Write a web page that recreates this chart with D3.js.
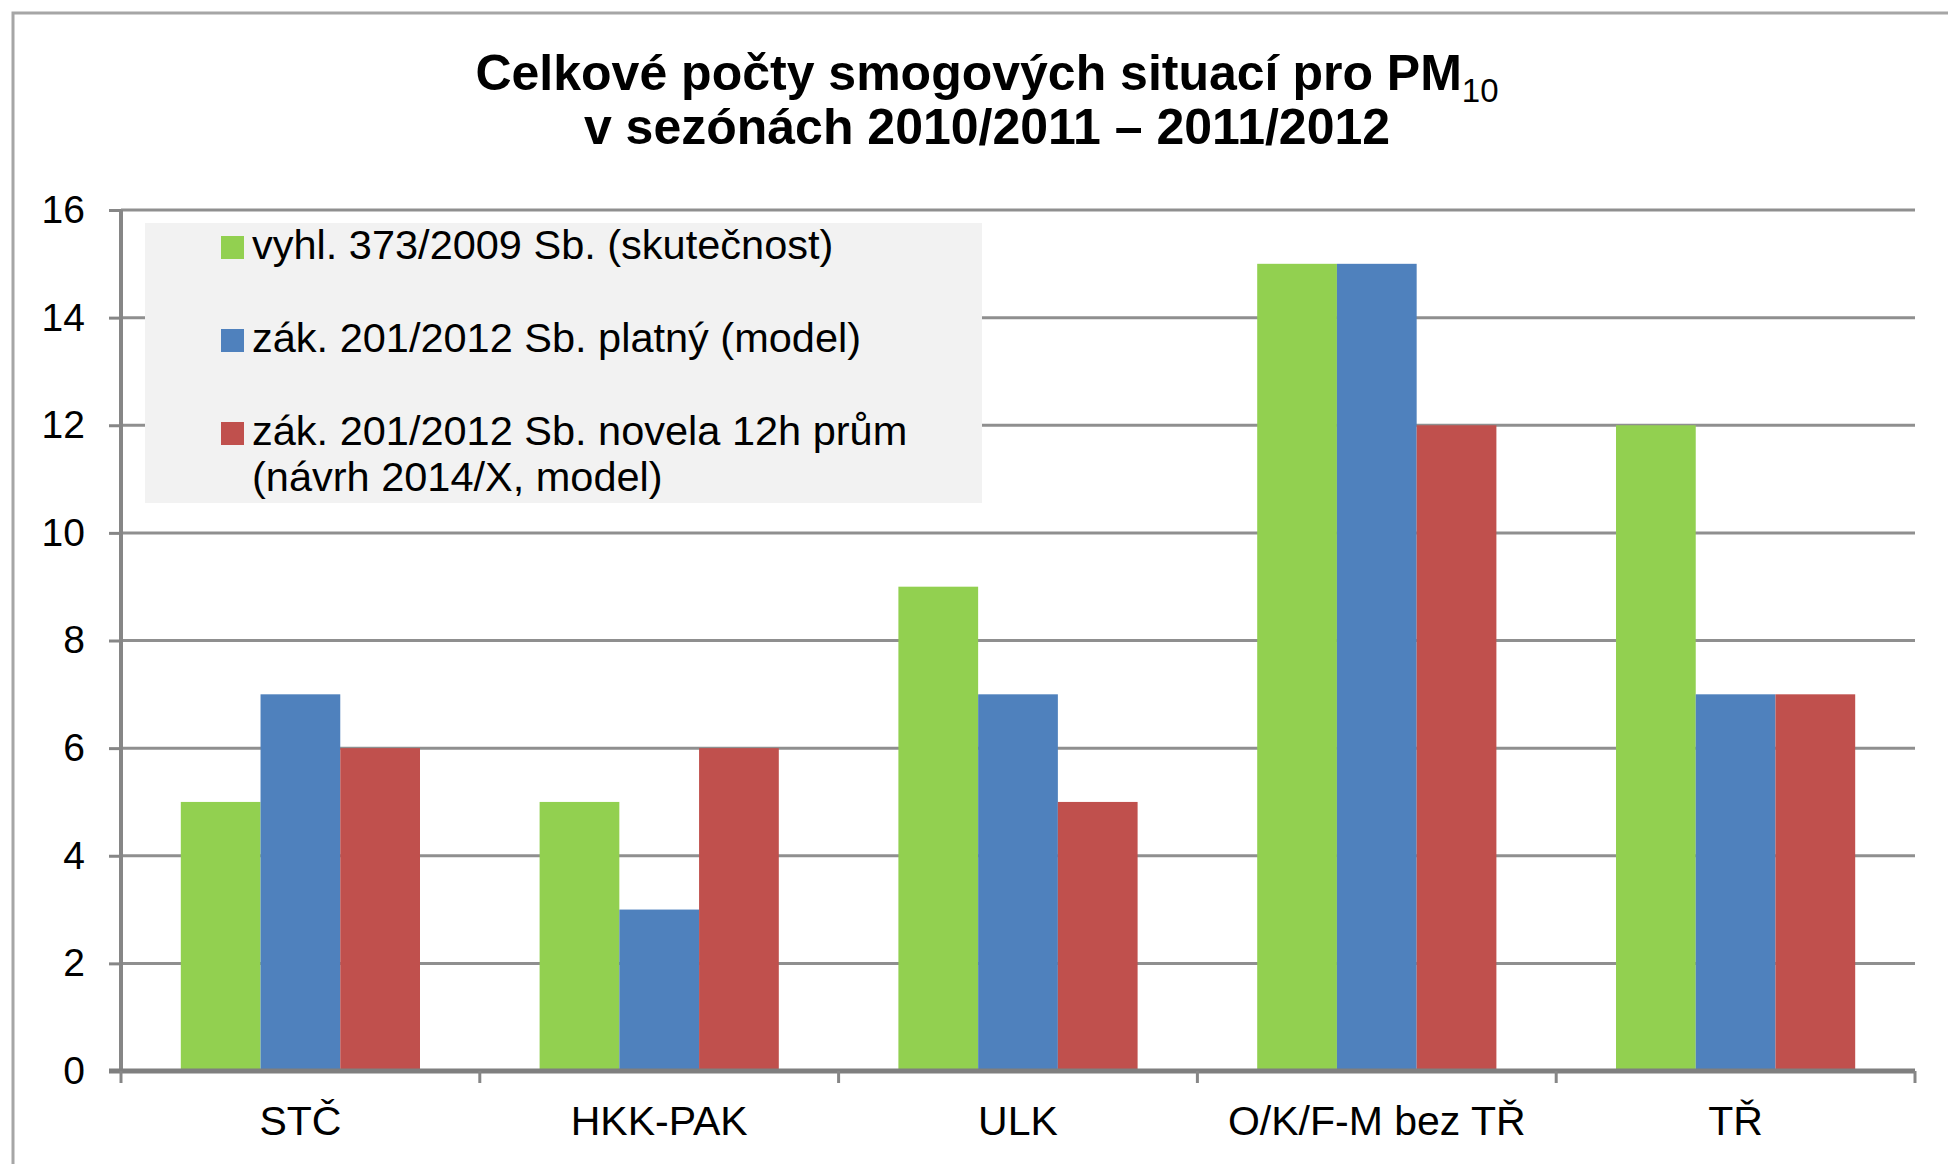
<!DOCTYPE html>
<html>
<head>
<meta charset="utf-8">
<script src="https://cdn.jsdelivr.net/npm/d3@7"></script>
<style>
  html, body { margin: 0; padding: 0; background: #ffffff; }
  svg { display: block; font-family: "Liberation Sans", Arial, sans-serif; }
</style>
</head>
<body>
<svg id="chart" width="1948" height="1164"></svg>
<script>
// ---- data ----
const categories = ["STČ", "HKK-PAK", "ULK", "O/K/F-M bez TŘ", "TŘ"];
const seriesNames = [
  "vyhl. 373/2009 Sb. (skutečnost)",
  "zák. 201/2012 Sb. platný (model)",
  "zák. 201/2012 Sb. novela 12h prům"
];
const seriesNameExtra = ["", "", "(návrh 2014/X, model)"];
const seriesColors = ["#92d050", "#4f81bd", "#c0504d"];
const valuesGreen = [5, 5, 9, 15, 12];
const valuesBlue  = [7, 3, 7, 15, 7];
const valuesRed   = [6, 6, 5, 12, 7];
const yTicks = [0, 2, 4, 6, 8, 10, 12, 14, 16];
const titleLine1 = "Celkové počty smogových situací pro PM";
const titleSub = "10";
const titleLine2 = "v sezónách 2010/2011 – 2011/2012";

const seriesValues = [valuesGreen, valuesBlue, valuesRed];

// ---- layout ----
const svg = d3.select("#chart");
const plot = { left: 121, right: 1915, top: 210, bottom: 1071 };

// outer border (top and left visible)
svg.append("path")
  .attr("d", `M13,1170 L13,13 L1960,13`)
  .attr("fill", "none").attr("stroke", "#a6a6a6").attr("stroke-width", 3);

const y = d3.scaleLinear().domain([0, 16]).range([plot.bottom, plot.top]);
const x = d3.scaleBand().domain(categories).range([plot.left, plot.right]).padding(0);
const xs = d3.scaleBand().domain(d3.range(seriesNames.length))
  .range([0, x.bandwidth()]).paddingInner(0).paddingOuter(0.75);

// gridlines
svg.append("g").selectAll("line").data(yTicks.filter(d => d > 0)).join("line")
  .attr("x1", plot.left).attr("x2", plot.right)
  .attr("y1", d => y(d)).attr("y2", d => y(d))
  .attr("stroke", "#8f8f8f").attr("stroke-width", 3);

// legend box (covers gridlines)
const legend = svg.append("g");
legend.append("rect")
  .attr("x", 145).attr("y", 223).attr("width", 837).attr("height", 280)
  .attr("fill", "#f2f2f2");

// bars
const barG = svg.append("g");
seriesValues.forEach((vals, si) => {
  barG.selectAll(null).data(vals.map((v, i) => ({ v, c: categories[i] }))).join("rect")
    .attr("x", d => x(d.c) + xs(si))
    .attr("width", xs.bandwidth())
    .attr("y", d => y(d.v))
    .attr("height", d => y(0) - y(d.v))
    .attr("fill", seriesColors[si]);
});

// y axis
const yAxis = svg.append("g").attr("transform", `translate(${plot.left},0)`)
  .call(d3.axisLeft(y).tickValues(yTicks).tickSize(12).tickPadding(24).tickFormat(d3.format("d")));
yAxis.select(".domain").attr("stroke", "#868686").attr("stroke-width", 4)
  .attr("d", `M0,${plot.top}V${plot.bottom}`);
yAxis.selectAll(".tick line").attr("stroke", "#868686").attr("stroke-width", 3);
yAxis.selectAll(".tick text").attr("font-size", 39).attr("fill", "#000");

// x axis
const xAxisG = svg.append("g").attr("transform", `translate(0,${plot.bottom})`);
xAxisG.append("line")
  .attr("x1", plot.left - 12).attr("x2", plot.right)
  .attr("y1", 0).attr("y2", 0)
  .attr("stroke", "#7f7f7f").attr("stroke-width", 5);
const boundaries = categories.map(c => x(c)).concat([x(categories[categories.length - 1]) + x.bandwidth()]);
xAxisG.selectAll("line.tk").data(boundaries).join("line").attr("class", "tk")
  .attr("x1", d => d).attr("x2", d => d).attr("y1", 0).attr("y2", 12)
  .attr("stroke", "#868686").attr("stroke-width", 3);
xAxisG.selectAll("text").data(categories).join("text")
  .attr("x", d => x(d) + x.bandwidth() / 2)
  .attr("y", 64)
  .attr("text-anchor", "middle")
  .attr("font-size", 41).attr("fill", "#000")
  .text(d => d);

// legend entries
const legendBase = [259, 352, 445];
seriesNames.forEach((name, i) => {
  legend.append("rect")
    .attr("x", 221).attr("y", legendBase[i] - 23).attr("width", 23).attr("height", 23)
    .attr("fill", seriesColors[i]);
  legend.append("text")
    .attr("x", 252).attr("y", legendBase[i])
    .attr("font-size", 41.5).attr("fill", "#000")
    .text(name);
  if (seriesNameExtra[i]) {
    legend.append("text")
      .attr("x", 252).attr("y", legendBase[i] + 46)
      .attr("font-size", 41.5).attr("fill", "#000")
      .text(seriesNameExtra[i]);
  }
});

// title
const title = svg.append("g").attr("fill", "#000");
const t1 = title.append("text").attr("x", 987).attr("y", 90)
  .attr("text-anchor", "middle").attr("font-size", 50).attr("font-weight", "bold");
t1.append("tspan").text(titleLine1);
t1.append("tspan").attr("font-size", 33).attr("font-weight", "normal").attr("dy", 12).text(titleSub);
title.append("text").attr("x", 987).attr("y", 144)
  .attr("text-anchor", "middle").attr("font-size", 50).attr("font-weight", "bold").text(titleLine2);
</script>
</body>
</html>
